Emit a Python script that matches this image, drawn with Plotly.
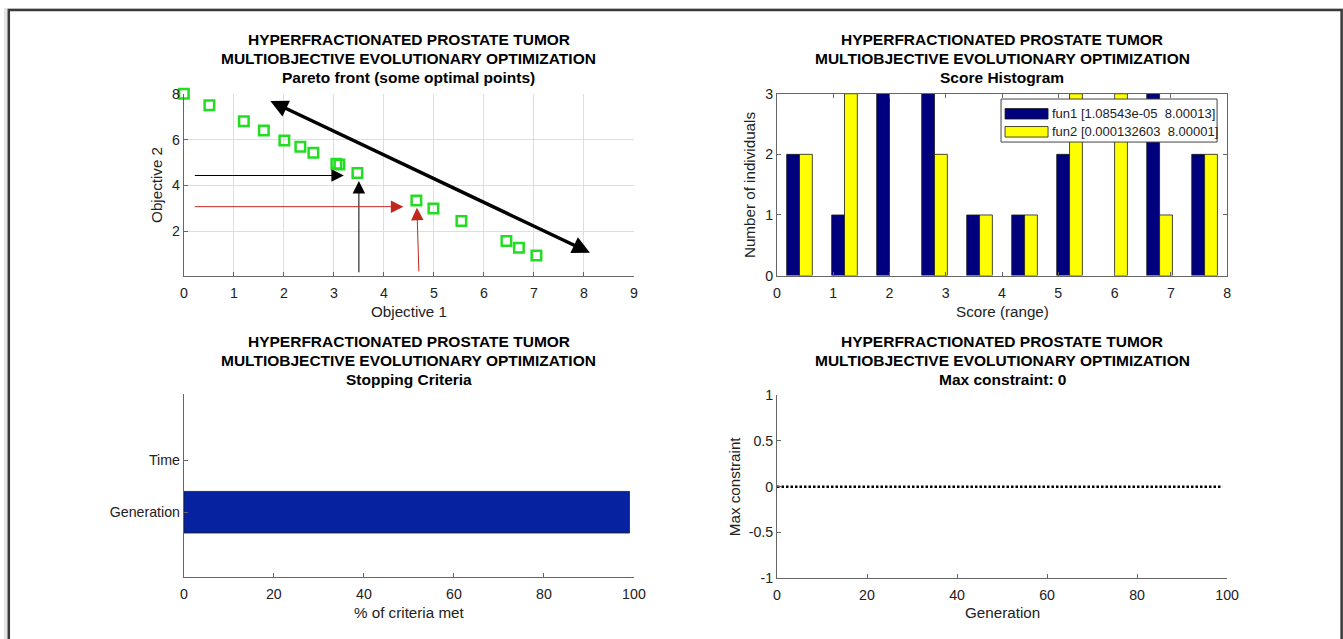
import plotly.graph_objects as go

# ---------------- data ----------------
obj1 = [0.0, 0.51, 1.2, 1.6, 2.01, 2.33, 2.59, 3.05, 3.11, 3.47, 4.65, 4.99, 5.55, 6.45, 6.7, 7.05]
obj2 = [8.0, 7.5, 6.8, 6.4, 5.96, 5.69, 5.42, 4.94, 4.91, 4.54, 3.34, 2.99, 2.44, 1.57, 1.28, 0.94]

bin_centers = [0.4, 1.2, 2.0, 2.8, 3.6, 4.4, 5.2, 6.0, 6.8, 7.6]
fun1_counts = [2, 1, 3, 3, 1, 1, 2, 0, 3, 2]
fun2_counts = [2, 3, 0, 2, 1, 1, 3, 3, 1, 2]
legend_labels = ["fun1 [1.08543e-05\u00a0 8.00013]", "fun2 [0.000132603\u00a0 8.00001]"]

criteria_names = ["Generation", "Time"]
criteria_pos = [1, 2]
criteria_pct = [99, 0]

generations = [0, 99]
max_constraint = [0, 0]

title_l1 = "HYPERFRACTIONATED PROSTATE TUMOR"
title_l2 = "MULTIOBJECTIVE EVOLUTIONARY OPTIMIZATION"
subtitles = ["Pareto front (some optimal points)", "Score Histogram", "Stopping Criteria", "Max constraint: 0"]

# ---------------- layout helpers ----------------
# positions below are given in target-picture pixels and mapped to figure pixels
SX, SY = 0.988, 0.975
CX, CY = 3.2, 7.0
W, H = 1360, 650
FONT = "Liberation Sans, Arial, sans-serif"
TXT = "#222222"
AX = "#666666"

def px(x):
    return ((x - CX) / SX) / W

def py(y):
    return 1 - ((y - CY) / SY) / H

def edge_widths(vals):
    return [0.8 if v > 0 else 0 for v in vals]

fig = go.Figure()

# Pareto front
fig.add_trace(go.Scatter(
    x=obj1, y=obj2, mode="markers", xaxis="x", yaxis="y", cliponaxis=False,
    marker=dict(symbol="square-open", size=9.5, color="#22dd22", line=dict(width=2.5, color="#22dd22")),
    showlegend=False, hoverinfo="x+y"))

# Histogram
fig.add_trace(go.Bar(x=bin_centers, y=fun1_counts, xaxis="x2", yaxis="y2",
                     marker=dict(color="#00007f", line=dict(color="#1a1a1a", width=edge_widths(fun1_counts))),
                     name=legend_labels[0], showlegend=False))
fig.add_trace(go.Bar(x=bin_centers, y=fun2_counts, xaxis="x2", yaxis="y2",
                     marker=dict(color="#ffff00", line=dict(color="#1a1a1a", width=edge_widths(fun2_counts))),
                     name=legend_labels[1], showlegend=False))

# Stopping criteria
fig.add_trace(go.Bar(x=criteria_pct, y=criteria_pos, orientation="h", xaxis="x3", yaxis="y3",
                     width=0.8,
                     marker=dict(color="#0622a0", line=dict(color="#1a1a1a", width=edge_widths(criteria_pct))),
                     showlegend=False))

# Max constraint
fig.add_trace(go.Scatter(x=generations, y=max_constraint, mode="lines", xaxis="x4", yaxis="y4",
                         line=dict(color="black", width=2.6, dash="2.5px,2px"),
                         showlegend=False))

common = dict(showline=True, linecolor=AX, linewidth=1, ticks="inside", ticklen=4,
              tickcolor=AX, zeroline=False, tickfont=dict(size=14.2, color=TXT, family=FONT))

fig.update_layout(
    width=W, height=H,
    margin=dict(l=0, r=0, t=0, b=0),
    paper_bgcolor="white", plot_bgcolor="rgba(0,0,0,0)",
    font=dict(family=FONT, color=TXT),
    barmode="group", bargap=0.43, bargroupgap=0,
    xaxis=dict(domain=[px(183), px(633)], range=[0, 9], dtick=1, showgrid=True,
               gridcolor="#dedede", anchor="y", ticklabelstandoff=4, **common),
    yaxis=dict(domain=[py(274.5), py(92.7)], range=[0.06, 8], tickvals=[2, 4, 6, 8], showgrid=True,
               gridcolor="#dedede", anchor="x", **common),
    xaxis2=dict(domain=[px(776), px(1226)], range=[0, 8], dtick=1, showgrid=False, mirror="ticks",
                anchor="y2", ticklabelstandoff=4, **common),
    yaxis2=dict(domain=[py(274.5), py(92.7)], range=[0, 3], dtick=1, showgrid=False, mirror="ticks",
                anchor="x2", **common),
    xaxis3=dict(domain=[px(183), px(633)], range=[0, 100], dtick=20, showgrid=False,
                anchor="y3", ticklabelstandoff=4, **common),
    yaxis3=dict(domain=[py(576), py(393)], range=[-0.25, 3.27], tickvals=criteria_pos,
                ticktext=criteria_names, showgrid=False, anchor="x3", **common),
    xaxis4=dict(domain=[px(776), px(1226)], range=[0, 100], dtick=20, showgrid=False,
                anchor="y4", ticklabelstandoff=4, **common),
    yaxis4=dict(domain=[py(577), py(394)], range=[-1, 1], tickvals=[-1, -0.5, 0, 0.5, 1],
                ticktext=["-1", "-0.5", "0", "0.5", "1"], showgrid=False, anchor="x4", **common),
)

shapes = [
    dict(type="rect", xref="paper", yref="paper", x0=0, x1=1, y0=0, y1=1,
         fillcolor="#e4e4e4", line=dict(width=0), layer="below"),
    dict(type="rect", xref="paper", yref="paper", x0=px(8), x1=px(1340.5), y0=-0.05, y1=py(9),
         fillcolor="white", line=dict(color="#3a3a3a", width=2.5), layer="below"),
    # custom legend
    dict(type="rect", xref="paper", yref="paper", x0=px(1000), x1=px(1216), y0=py(141), y1=py(98),
         fillcolor="white", line=dict(color="#444", width=1), layer="above"),
    dict(type="rect", xref="paper", yref="paper", x0=px(1004), x1=px(1047), y0=py(118), y1=py(107.5),
         fillcolor="#00007f", line=dict(color="#1a1a1a", width=0.8), layer="above"),
    dict(type="rect", xref="paper", yref="paper", x0=px(1004), x1=px(1047), y0=py(136), y1=py(125.5),
         fillcolor="#ffff00", line=dict(color="#1a1a1a", width=0.8), layer="above"),
]
fig.update_layout(shapes=shapes)

ann = []
title_cols = [(408, 38.5), (1001, 38.5), (408, 340.5), (1001, 340.5)]
for (cx, ty), sub in zip(title_cols, subtitles):
    for i, t in enumerate([title_l1, title_l2, sub]):
        ann.append(dict(text="<b>%s</b>" % t, x=px(cx), y=py(ty + 19 * i), xref="paper", yref="paper",
                        showarrow=False, xanchor="center", yanchor="middle",
                        font=dict(size=15.5, color="black", family=FONT)))

labels = [("Objective 1", 408, 310, 0), ("Objective 2", 155, 184, -90),
          ("Score (range)", 1001, 310, 0), ("Number of individuals", 748, 184, -90),
          ("% of criteria met", 408, 611, 0), ("Generation", 1001, 611, 0),
          ("Max constraint", 733, 485, -90)]
for t, x, y, rot in labels:
    ann.append(dict(text=t, x=px(x), y=py(y), xref="paper", yref="paper", showarrow=False,
                    xanchor="center", yanchor="middle", textangle=rot,
                    font=dict(size=15.2, color=TXT, family=FONT)))

for lbl, yy in zip(legend_labels, [112.5, 130.5]):
    ann.append(dict(text=lbl, x=px(1049), y=py(yy), xref="paper", yref="paper", showarrow=False,
                    xanchor="left", yanchor="middle", font=dict(size=13, color=TXT, family=FONT)))

# arrows on the Pareto plot
arrows = [
    dict(x=8.12, y=1.06, ax=1.7, ay=7.71, color="black", w=3.5, s=1.0, both=True),
    dict(x=3.2, y=4.43, ax=0.19, ay=4.43, color="black", w=1, s=2.5, both=False),
    dict(x=3.5, y=4.19, ax=3.5, ay=0.14, color="black", w=1, s=2.5, both=False),
    dict(x=4.39, y=3.07, ax=0.19, ay=3.07, color="#c0281e", w=1, s=2.5, both=False),
    dict(x=4.66, y=3.02, ax=4.7, ay=0.18, color="#c0281e", w=1, s=2.5, both=False),
]
for a in arrows:
    d = dict(x=a["x"], y=a["y"], ax=a["ax"], ay=a["ay"], xref="x", yref="y", axref="x", ayref="y",
             text="", showarrow=True, arrowhead=2, arrowwidth=a["w"], arrowsize=a["s"],
             arrowcolor=a["color"], standoff=0, startstandoff=0)
    if a["both"]:
        d.update(arrowside="end+start", startarrowhead=2, startarrowsize=a["s"])
    ann.append(d)

fig.update_layout(annotations=ann)

fig.write_html("out.html")
